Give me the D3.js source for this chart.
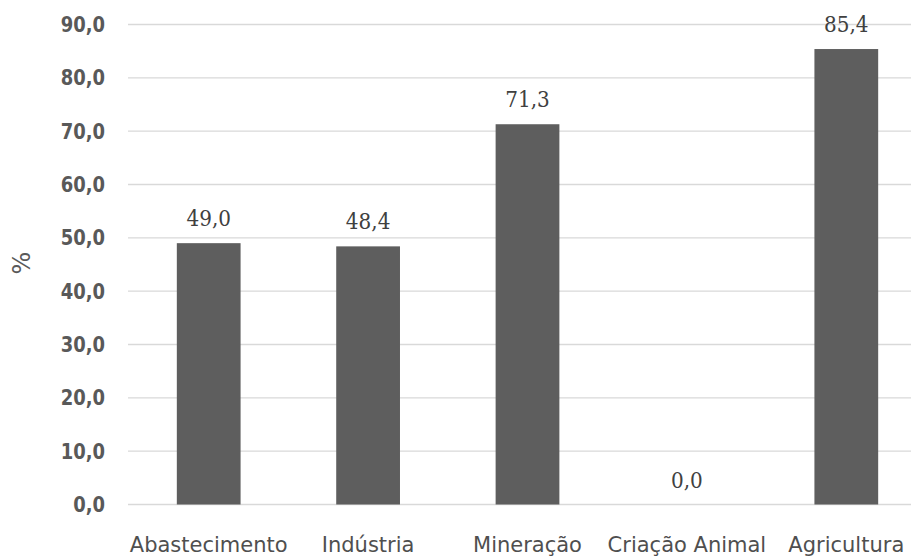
<html>
<head>
<meta charset="utf-8">
<title>Bars</title>
<style>
  body { margin: 0; background: #fff; }
</style>
</head>
<body>
<svg width="911" height="558"></svg>
<script src="https://d3js.org/d3.v7.min.js"></script>
<script>

var categories = ["Abastecimento", "Indústria", "Mineração", "Criação Animal", "Agricultura"];
var values = [49.0, 48.4, 71.3, 0.0, 85.4];
var yticks = [0, 10, 20, 30, 40, 50, 60, 70, 80, 90];

var svg = d3.select('svg');

var x = d3.scaleBand()
  .domain(categories)
  .range([129, 926])
  .paddingInner(0.6)
  .paddingOuter(0.3);

var y = d3.scaleLinear()
  .domain([0, 90])
  .range([504.5, 24.5]);

function fmt(v) { return v.toFixed(1).replace('.', ','); }

// gridlines
svg.selectAll('.grid')
  .data(yticks)
  .enter()
  .append('line')
  .attr('x1', 128)
  .attr('x2', 926)
  .attr('y1', function(d){ return y(d); })
  .attr('y2', function(d){ return y(d); })
  .style('stroke', '#d9d9d9')
  .style('stroke-width', 1.3);

// y tick labels (a bit taller than wide, like the original)
svg.selectAll('.ytick')
  .data(yticks)
  .enter()
  .append('text')
  .text(function(d){ return fmt(d); })
  .attr('transform', function(d){ return 'translate(105,' + (y(d) + 7.5) + ') scale(1,1.13)'; })
  .attr('text-anchor', 'end')
  .attr('font-family', 'DejaVu Sans')
  .attr('font-weight', 'bold')
  .attr('font-size', '18px')
  .attr('fill', '#595959');

// axis title
svg.append('text')
  .text('%')
  .attr('transform', 'translate(30,263) rotate(-90)')
  .attr('text-anchor', 'middle')
  .attr('font-family', 'DejaVu Sans')
  .attr('font-size', '24px')
  .attr('fill', '#595959');

// bars
svg.selectAll('.bar')
  .data(values)
  .enter()
  .append('rect')
  .attr('x', function(d, i){ return x(categories[i]); })
  .attr('width', x.bandwidth())
  .attr('y', function(d){ return y(d); })
  .attr('height', function(d){ return y(0) - y(d); })
  .style('fill', '#5e5e5e');

// value labels
svg.selectAll('.val')
  .data(values)
  .enter()
  .append('text')
  .text(function(d){ return fmt(d); })
  .attr('transform', function(d, i){
    return 'translate(' + (x(categories[i]) + x.bandwidth() / 2) + ',' + (y(d) - 17) + ') scale(1,1.15)';
  })
  .attr('text-anchor', 'middle')
  .attr('font-family', 'DejaVu Serif')
  .attr('font-size', '20px')
  .attr('fill', '#404040');

// category labels
svg.selectAll('.cat')
  .data(categories)
  .enter()
  .append('text')
  .text(function(d){ return d; })
  .attr('x', function(d){ return x(d) + x.bandwidth() / 2; })
  .attr('y', 552)
  .attr('text-anchor', 'middle')
  .attr('font-family', 'DejaVu Sans')
  .attr('font-size', '21px')
  .attr('fill', '#4f4f4f');

</script>
</body>
</html>
